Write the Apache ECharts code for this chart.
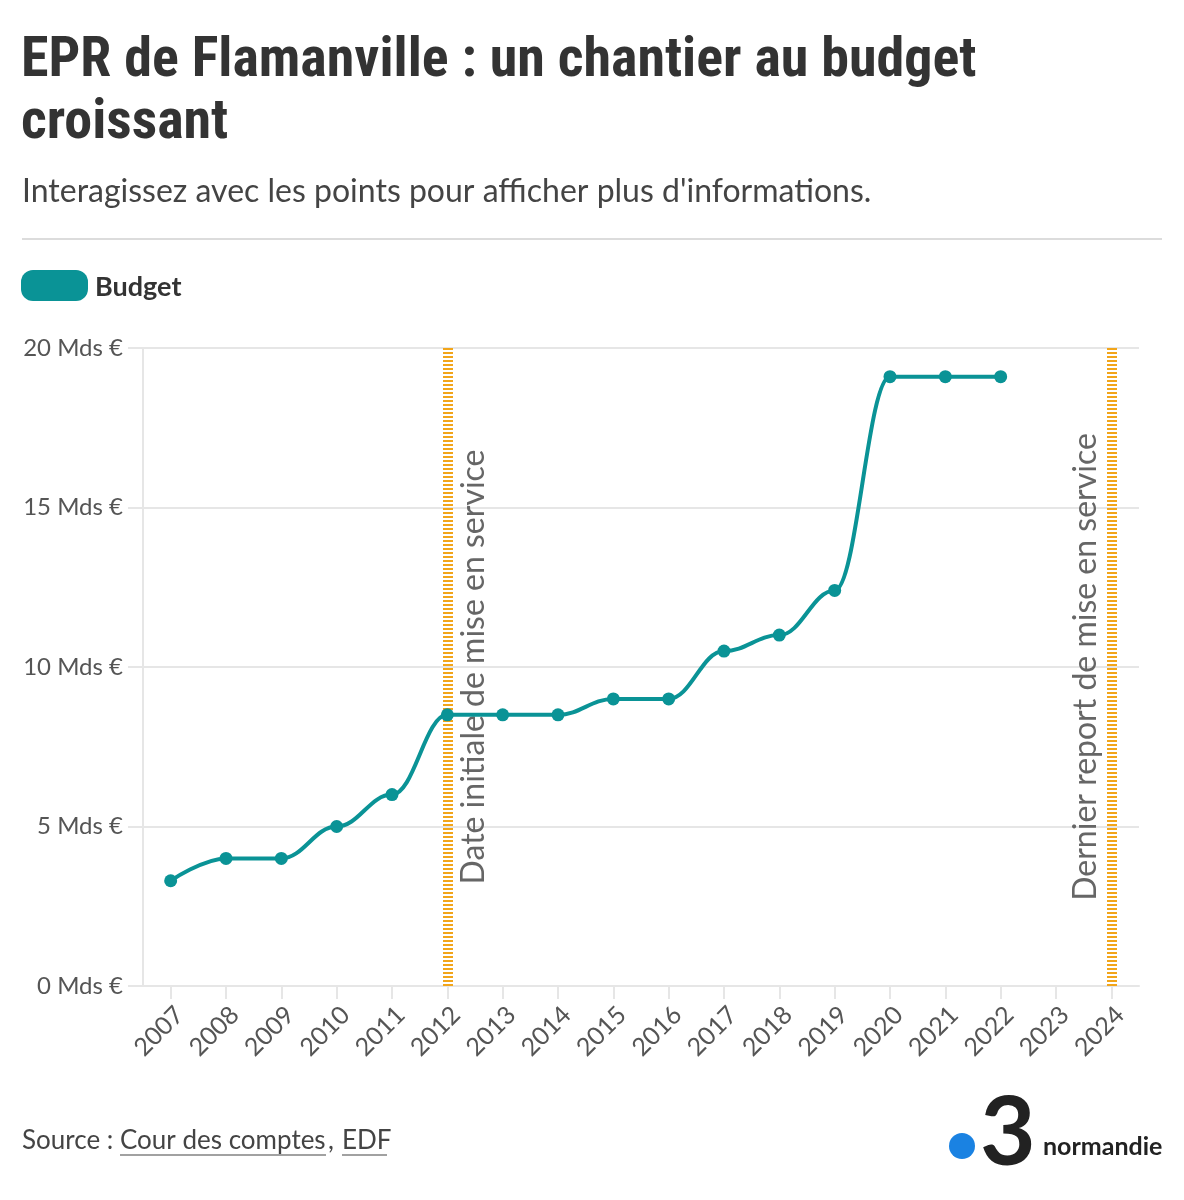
<!DOCTYPE html>
<html><head><meta charset="utf-8">
<script src="https://cdn.jsdelivr.net/npm/echarts@6/dist/echarts.min.js"></script>
<style>html,body{margin:0;padding:0;background:#fff}#c{width:1184px;height:1200px}</style>
</head><body><div id="c"></div>
<script>
const years = ['2007','2008','2009','2010','2011','2012','2013','2014','2015','2016','2017','2018','2019','2020','2021','2022','2023','2024'];
const budget = [3.3,4,4,5,6,8.5,8.5,8.5,9,9,10.5,11,12.4,19.1,19.1,19.1,null,null];
const yTicks = [0,5,10,15,20];
const markYears = ['2012','2024'];
const markLabels = ['Date initiale de mise en service','Dernier report de mise en service'];

const body = "'Source Sans Pro','Lato','Noto Sans',sans-serif";
const cond = "'Roboto Condensed','Liberation Sans Narrow','DejaVu Sans Condensed',sans-serif";
const teal = '#0a9396';
const orange = '#f2a51a';

const chart = echarts.init(document.getElementById('c'), null, {renderer:'canvas'});
chart.setOption({
  animation:false,
  title:[{
    text:'EPR de Flamanville : un chantier au budget\ncroissant',
    left:21, top:31, padding:0,
    textStyle:{fontFamily:cond, fontSize:56, fontWeight:'bold', color:'#333', lineHeight:62}
  },{
    text:"Interagissez avec les points pour afficher plus d'informations.",
    left:22, top:176, padding:0,
    textStyle:{fontFamily:body, fontSize:32, fontWeight:'normal', color:'#444'}
  }],
  graphic:[
    {type:'line', shape:{x1:22,y1:239,x2:1162,y2:239}, style:{stroke:'#dcdcdc', lineWidth:2}},
    {type:'rect', shape:{x:21,y:270,width:67,height:31,r:12}, style:{fill:teal}},
    {type:'text', x:95, y:287, style:{text:'Budget', font:"bold 27px "+body, fill:'#333', verticalAlign:'middle'}},
    {type:'text', x:22, y:1141, style:{text:'Source : ', font:"26px "+body, fill:'#444', verticalAlign:'middle'}},
    {type:'text', x:120, y:1141, style:{text:'Cour des comptes', font:"26px "+body, fill:'#444', verticalAlign:'middle'}},
    {type:'line', shape:{x1:120,y1:1155,x2:326,y2:1155}, style:{stroke:'#444', lineWidth:1.2}},
    {type:'text', x:328, y:1141, style:{text:',', font:"26px "+body, fill:'#444', verticalAlign:'middle'}},
    {type:'text', x:342, y:1141, style:{text:'EDF', font:"26px "+body, fill:'#444', verticalAlign:'middle'}},
    {type:'line', shape:{x1:342,y1:1155,x2:387,y2:1155}, style:{stroke:'#444', lineWidth:1.2}},
    {type:'circle', shape:{cx:962,cy:1146,r:13}, style:{fill:'#1a82e2'}},
    {type:'text', x:980, y:1134, style:{text:'3', font:"bold 96px 'Lato','Noto Sans',sans-serif", fill:'#222', verticalAlign:'middle'}},
    {type:'text', x:1043, y:1147, style:{text:'normandie', font:"bold 25px 'Lato','Noto Sans',sans-serif", fill:'#222', verticalAlign:'middle'}}
  ],
  grid:{left:143, right:45, top:348, bottom:214, containLabel:false},
  xAxis:{
    type:'category', data:years, boundaryGap:true,
    axisLine:{lineStyle:{color:'#e6e6e6', width:2}},
    axisTick:{show:true, alignWithLabel:true, length:13, lineStyle:{color:'#e6e6e6', width:2}},
    axisLabel:{rotate:45, fontFamily:body, fontSize:25, color:'#555', margin:16, interval:0, verticalAlign:'top'}
  },
  yAxis:{
    type:'value', min:0, max:20, interval:5,
    axisLine:{show:true, lineStyle:{color:'#e6e6e6', width:2}},
    axisTick:{show:true, length:15, lineStyle:{color:'#e6e6e6', width:2}},
    splitLine:{lineStyle:{color:'#e6e6e6', width:2}},
    axisLabel:{fontFamily:body, fontSize:24, color:'#555', margin:20,
      formatter:v=> yTicks.includes(v) ? v+' Mds €' : ''}
  },
  series:[{
    type:'line', name:'Budget', data:budget,
    smooth:0.4, smoothMonotone:'x',
    symbol:'circle', symbolSize:13, showSymbol:true,
    lineStyle:{color:teal, width:4},
    itemStyle:{color:teal},
    z:3,
    markLine:{
      silent:true, symbol:['none','none'],
      lineStyle:{color:orange, width:10, type:[2,2], opacity:1},
      data:[
        {xAxis:markYears[0], label:{formatter:markLabels[0], position:'insideMiddleBottom', distance:10}},
        {xAxis:markYears[1], label:{formatter:markLabels[1], position:'insideMiddleTop', distance:10}}
      ],
      label:{show:true, fontFamily:body, fontSize:32, color:'#666'},
      z:1
    }
  }]
});
</script></body></html>
